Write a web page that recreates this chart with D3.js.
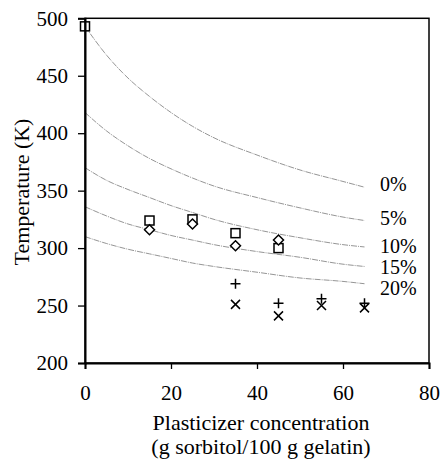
<!DOCTYPE html>
<html>
<head>
  <meta charset="utf-8">
  <script src="https://d3js.org/d3.v7.min.js"></script>
  <style>
    body { margin: 0; background: #fff; }
    text { font-family: "Liberation Serif", "Times New Roman", serif; fill: #000; }
  </style>
</head>
<body>
<script>
  // curve sample points (x = sorbitol, T in K)
  var curveX = [0, 5, 10, 15, 20, 25, 30, 40, 50, 60, 65];
  var curve0  = [493, 468, 448, 432, 418, 406, 396, 381, 368, 358, 353];
  var curve5  = [418, 402, 389, 378, 369, 361, 354, 344, 335, 327, 324];
  var curve10 = [370, 359, 351, 344, 337, 331, 325, 316, 309, 303, 301];
  var curve15 = [336, 328, 321, 316, 311, 307, 303, 297, 292, 286, 284];
  var curve20 = [310, 304, 299, 295, 291, 287, 284, 279, 274, 271, 269];
  var curveLabels = ["0%", "5%", "10%", "15%", "20%"];

  // measured points
  var squareX = [0, 15, 25, 35, 45],  squareT = [493, 324, 325, 313, 300];
  var diamondX = [15, 25, 35, 45],    diamondT = [316, 321, 302, 307];
  var plusX = [35, 45, 55, 65],       plusT = [269, 252, 256, 252];
  var crossX = [35, 45, 55, 65],      crossT = [251, 241, 250, 248];

  var xTicks = [0, 20, 40, 60, 80];
  var yTicks = [200, 250, 300, 350, 400, 450, 500];

  var W = 442, H = 463;
  var svg = d3.select("body").append("svg").attr("width", W).attr("height", H);

  var x = d3.scaleLinear().domain([0, 80]).range([85, 429]);
  var y = d3.scaleLinear().domain([200, 500]).range([363, 18.3]);

  // curves
  var line = d3.line().x(function(d) { return x(d[0]); }).y(function(d) { return y(d[1]); })
    .curve(d3.curveMonotoneX);
  var curves = [curve0, curve5, curve10, curve15, curve20];
  var labelDy = [-3, -3, -1, 1, 4];
  curves.forEach(function(c, i) {
    var pts = curveX.map(function(v, j) { return [v, c[j]]; });
    svg.append("path").attr("d", line(pts))
      .attr("fill", "none").attr("stroke", "#7a7a7a").attr("stroke-width", 0.8)
      .attr("stroke-dasharray", "6,1,1,1");
    svg.append("text")
      .attr("x", 380).attr("y", y(c[c.length - 1]) + labelDy[i])
      .attr("dy", "0.35em").style("font-size", "20px")
      .text(curveLabels[i]);
  });

  // markers
  var mk = svg.append("g").attr("fill", "none").attr("stroke", "#000").attr("stroke-width", 1.5);
  squareX.forEach(function(v, i) {
    mk.append("rect").attr("x", x(v) - 4.5).attr("y", y(squareT[i]) - 4.5)
      .attr("width", 9).attr("height", 9).attr("fill", "#fff");
  });
  diamondX.forEach(function(v, i) {
    var cx = x(v), cy = y(diamondT[i]);
    mk.append("path").attr("d", "M" + cx + "," + (cy - 5) + "L" + (cx + 5) + "," + cy +
      "L" + cx + "," + (cy + 5) + "L" + (cx - 5) + "," + cy + "Z").attr("fill", "#fff");
  });
  plusX.forEach(function(v, i) {
    var cx = x(v), cy = y(plusT[i]);
    mk.append("path").attr("d", "M" + (cx - 5) + "," + cy + "H" + (cx + 5) + "M" + cx + "," + (cy - 5) + "V" + (cy + 5));
  });
  crossX.forEach(function(v, i) {
    var cx = x(v), cy = y(crossT[i]);
    mk.append("path").attr("d", "M" + (cx - 4.5) + "," + (cy - 4.5) + "L" + (cx + 4.5) + "," + (cy + 4.5) +
      "M" + (cx - 4.5) + "," + (cy + 4.5) + "L" + (cx + 4.5) + "," + (cy - 4.5));
  });

  // frame
  svg.append("rect").attr("x", 85).attr("y", 18.3).attr("width", 344).attr("height", 344.7)
    .attr("fill", "none").attr("stroke", "#000").attr("stroke-width", 1.5);

  // axes
  var xAxis = svg.append("g").attr("transform", "translate(0,363)")
    .call(d3.axisBottom(x).tickValues(xTicks).tickSize(6).tickPadding(16));
  var yAxis = svg.append("g").attr("transform", "translate(85,0)")
    .call(d3.axisLeft(y).tickValues(yTicks).tickSize(7).tickPadding(10));
  [xAxis, yAxis].forEach(function(a) {
    a.select(".domain").attr("stroke-width", 2);
    a.selectAll(".tick line").attr("stroke-width", 1.3);
    a.selectAll("text").style("font-size", "21px").style("font-family", "'Liberation Serif', serif");
  });

  svg.append("text").attr("x", 261).attr("y", 430).attr("text-anchor", "middle")
    .style("font-size", "22px").text("Plasticizer concentration");
  svg.append("text").attr("x", 261).attr("y", 454).attr("text-anchor", "middle")
    .style("font-size", "22px").text("(g sorbitol/100 g gelatin)");
  svg.append("text").attr("transform", "translate(29,192) rotate(-90)")
    .attr("text-anchor", "middle").style("font-size", "22px").text("Temperature (K)");
</script>
</body>
</html>
